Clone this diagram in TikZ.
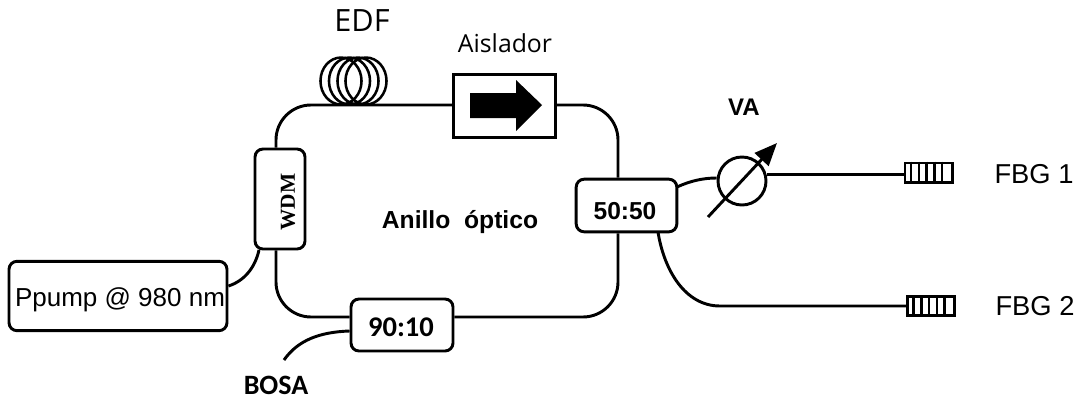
\documentclass[tikz,border=0pt]{standalone}
\usepackage{fontspec}
\setmainfont{Liberation Sans}
\newfontfamily\carl{Carlito}
\newfontfamily\opens{Open Sans}
\newfontfamily\timesf{Liberation Serif}
\usetikzlibrary{arrows.meta,calc}
\tikzset{
  x=0.75pt,y=-0.75pt,
  fiber/.style={draw=black,line width=2.2pt},
  box/.style={draw=black,line width=2.2pt,rounded corners=6pt,inner sep=0pt,fill=white},
  grating/.style={draw=black,line width=2pt,inner sep=0pt,fill=white},
  tick/.style={draw=black,line width=1.9pt},
  lbl/.style={inner sep=0pt,text=black},
}
\begin{document}
\begin{tikzpicture}
\useasboundingbox (0,0) rectangle (1078,400);
% coordinates for bends
\coordinate (tl) at (276,105);
\coordinate (tr) at (618,105);
\coordinate (bl) at (276,317);
\coordinate (br) at (618,317);
% nodes
\node[inner sep=0pt,minimum width=75.75pt,minimum height=46.5pt] (iso) at (504.5,106) {};
\node[box,minimum width=163.5pt,minimum height=52pt] (pump) at (118,296) {};
\node[lbl,font=\fontsize{19.5pt}{22pt}\selectfont] (pumpt) at (120,300) {Ppump @ 980 nm};
\node[box,minimum width=37.5pt,minimum height=75pt] (wdm) at (280,199) {};
\node[lbl,rotate=90,font=\timesf\bfseries\fontsize{16pt}{18pt}\selectfont] (wdmt) at (288,202) {WDM};
\node[box,minimum width=76.5pt,minimum height=39pt] (c9010) at (402,325) {};
\node[lbl,font=\carl\bfseries\fontsize{21.4pt}{24pt}\selectfont] (t9010) at (401,327) {90:10};
\node[box,minimum width=75.5pt,minimum height=39.5pt] (c5050) at (626.5,205.5) {};
\node[lbl,font=\bfseries\fontsize{18.4pt}{22pt}\selectfont] (t5050) at (625,211) {50:50};
% fibres of the ring
\draw[fiber] (tl |- wdm.north) -- ($(tl)+(0,35)$) arc[start angle=180,end angle=90,radius=26.25pt] -- (iso.west |- tl);
\draw[fiber] (iso.east |- tr) -- ($(tr)+(-35,0)$) arc[start angle=90,end angle=0,radius=26.25pt] -- (tr |- c5050.north);
\draw[fiber] (tr |- c5050.south) -- ($(br)+(0,-35)$) arc[start angle=0,end angle=-90,radius=26.25pt] -- (c9010.east |- br);
\draw[fiber] (bl |- wdm.south) -- ($(bl)+(0,-35)$) arc[start angle=180,end angle=270,radius=26.25pt] -- (c9010.west |- bl);
% isolator
\draw[black,line width=2.2pt,fill=white] (iso.south west) rectangle (iso.north east);
\fill[black] (470,93) -- (516,93) -- (516,80) -- (542,105) -- (516,131) -- (516,118) -- (470,118) -- cycle;
% EDF coil
\foreach \cx in {341,349.5,358,366}{
  \draw[black,line width=1.9pt] (\cx,81) ellipse[x radius=15.4pt,y radius=17.6pt];
}
% pump and bosa fibres
\draw[fiber] (pump.east |- 0,286) .. controls (244,281) and (255,268) .. (259,250);
\coordinate (bosaend) at (284,360);
\draw[fiber] (c9010.west |- 0,331) .. controls (320,332) and (298,340) .. (bosaend);
% VA
\node[draw=black,line width=2.2pt,circle,minimum size=36pt,inner sep=0pt] (va) at (742,181) {};
\coordinate (vaA) at (708,217);
\coordinate (vaB) at (777,143);
\draw[black,line width=2.2pt,-{Triangle[length=17pt,width=14pt]}] (vaA) -- (vaB);
\draw[fiber] (677,187) .. controls (690,181) and (703,178) .. (va.west |- 0,178);
\node[grating,minimum width=35.5pt,minimum height=14.5pt] (fbga) at (928.5,172.5) {};
\node[grating,minimum width=35.5pt,minimum height=14.5pt] (fbgb) at (931,306) {};
\draw[fiber] (va.east |- 0,174.5) -- (fbga.west |- 0,174.5);
\coordinate (c2) at (720,306);
\draw[fiber] (658,232) .. controls (664,270) and (685,306) .. (c2) -- (fbgb.west);
\foreach \i in {1,...,5}{
  \draw[tick] ($(fbga.north west)+(\i*7.7,0)$) -- ($(fbga.south west)+(\i*7.7,0)$);
  \draw[tick] ($(fbgb.north west)+(\i*7.7,0)$) -- ($(fbgb.south west)+(\i*7.7,0)$);
}
% labels
\node[lbl,font=\opens\fontsize{23pt}{24pt}\selectfont] (edf) at (362,21) {EDF};
\node[lbl,font=\opens\fontsize{18.6pt}{22pt}\selectfont] (ais) at (505,43) {Aislador};
\node[lbl,font=\bfseries\fontsize{18pt}{20pt}\selectfont] (vat) at (744,107) {VA};
\node[lbl,font=\bfseries\fontsize{18.5pt}{22pt}\selectfont] (anillo) at (460,222) {Anillo\ \ óptico};
\node[lbl,font=\carl\bfseries\fontsize{21pt}{24pt}\selectfont] (bosa) at (276,385) {BOSA};
\node[lbl,font=\fontsize{20.5pt}{24pt}\selectfont] (f1) at (1034,174) {FBG 1};
\node[lbl,font=\fontsize{20.5pt}{24pt}\selectfont] (f2) at (1035,306) {FBG 2};
\end{tikzpicture}
\end{document}
